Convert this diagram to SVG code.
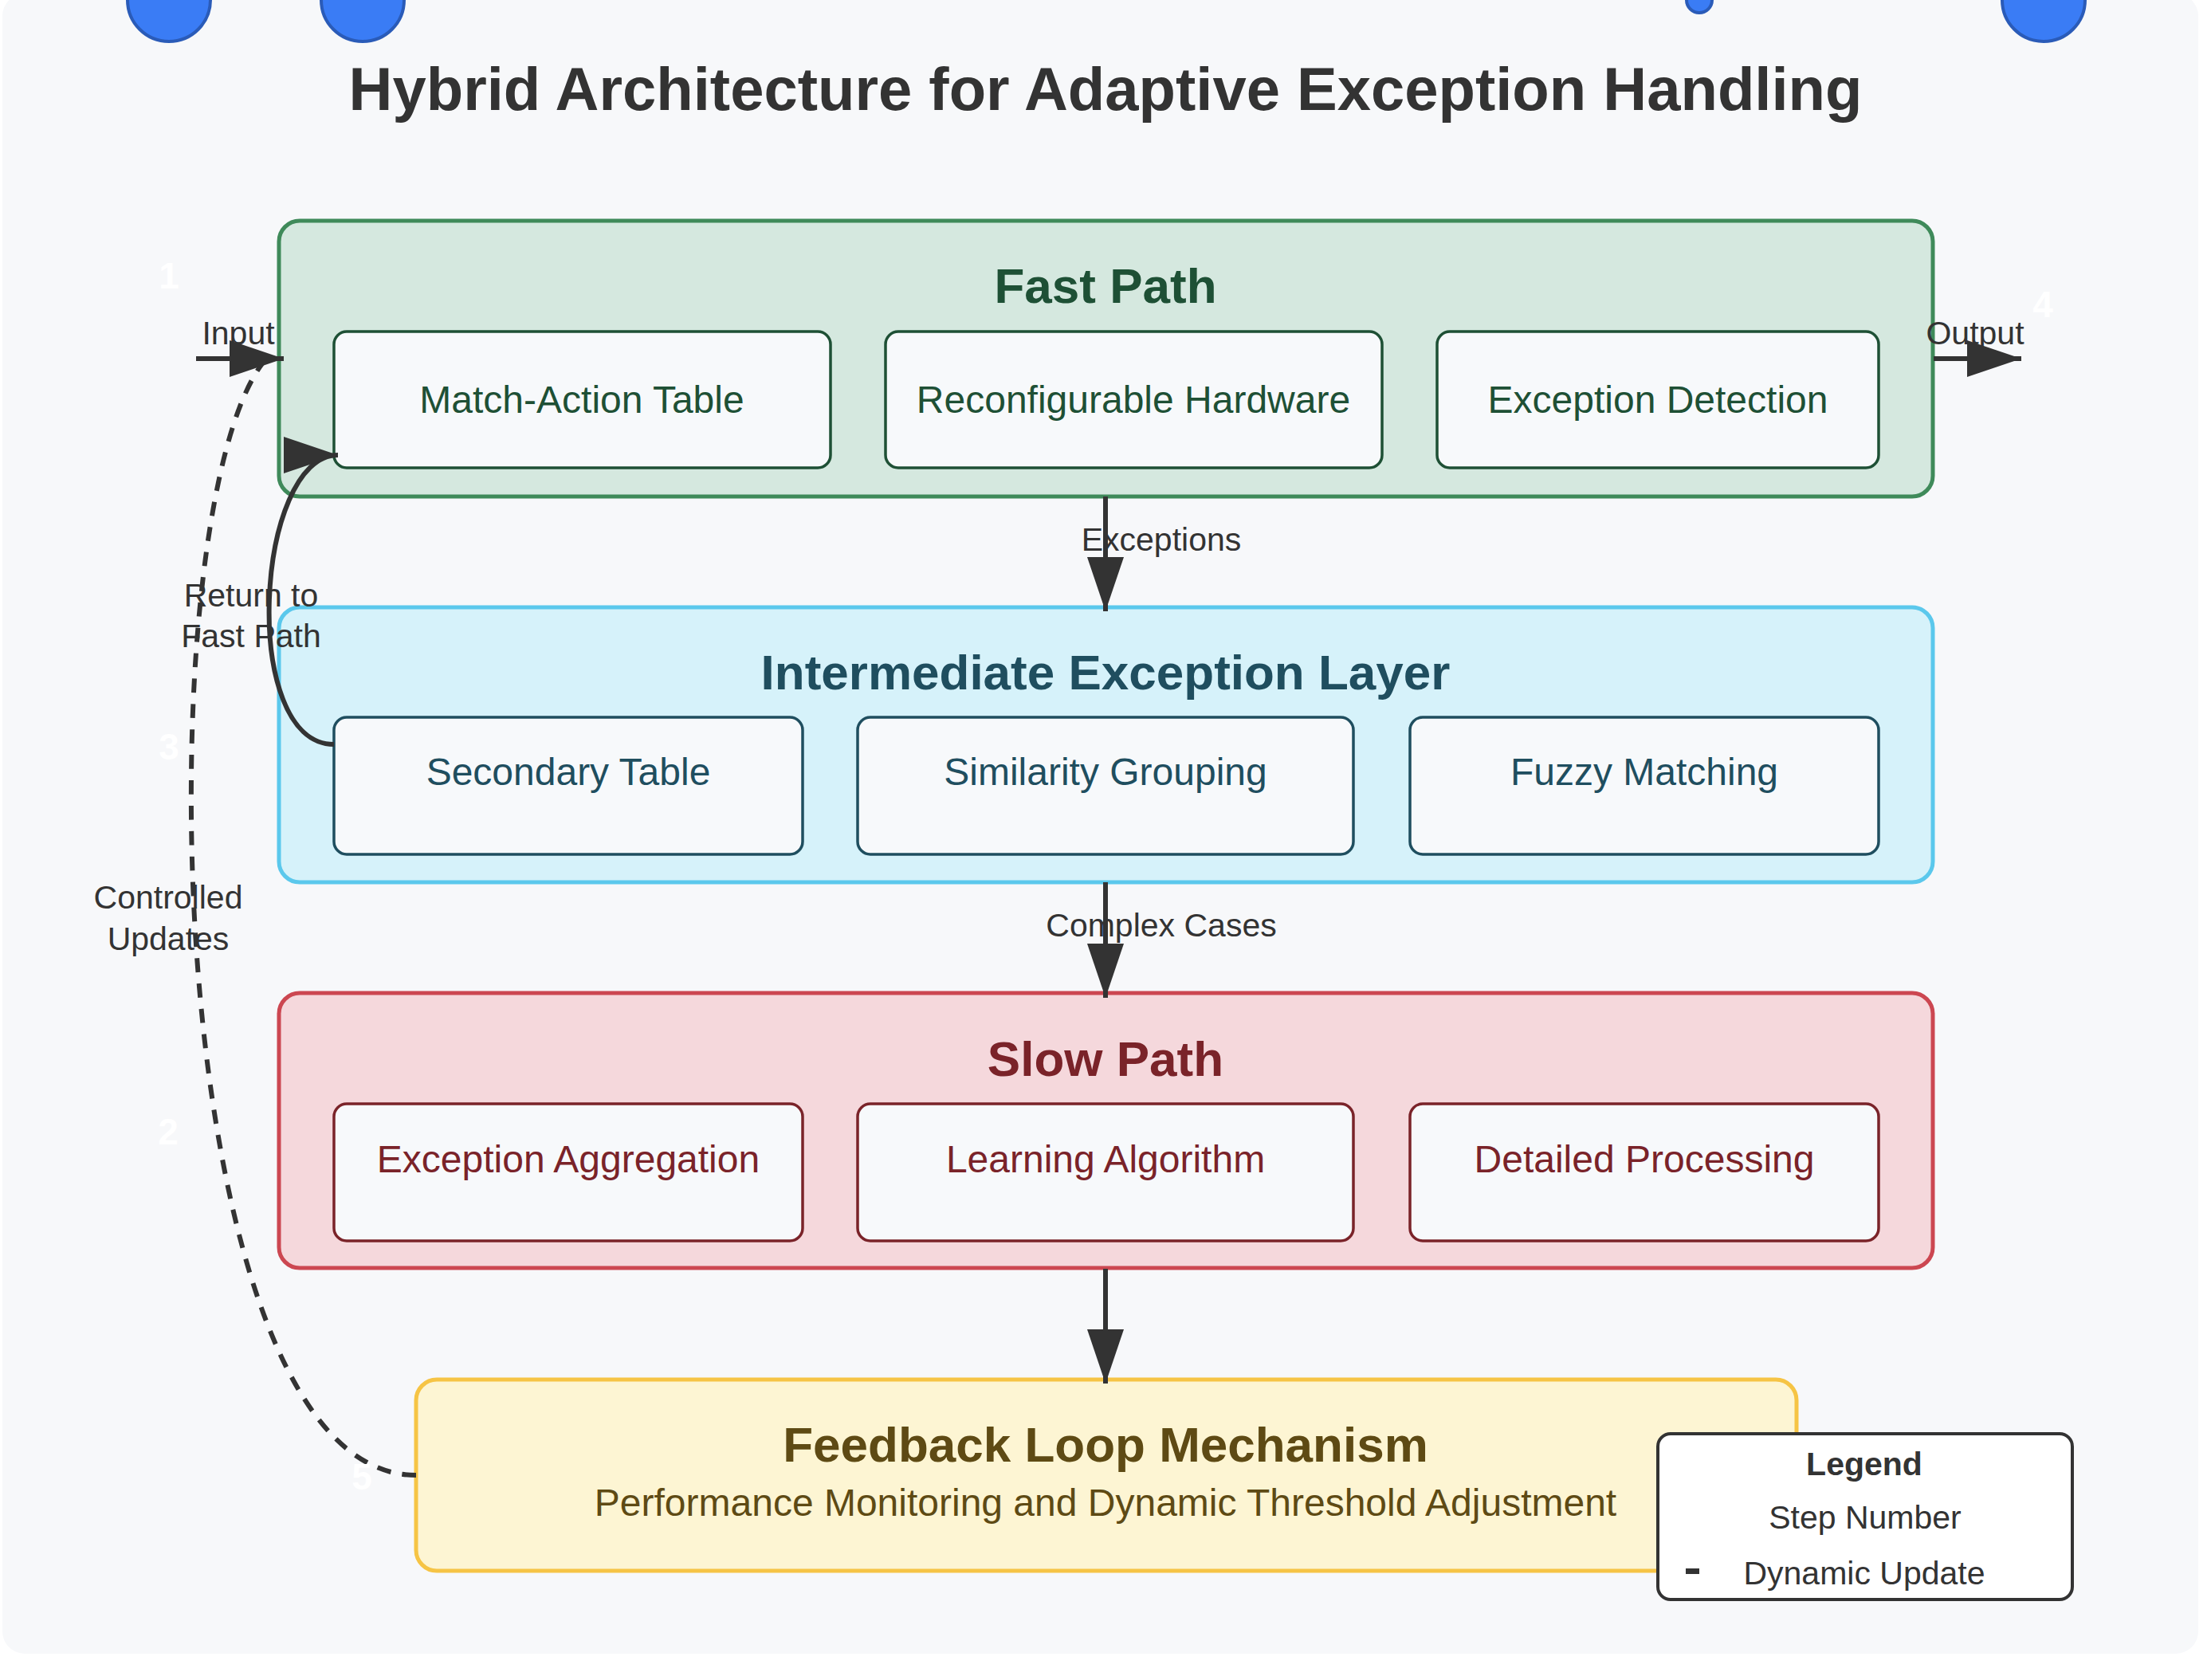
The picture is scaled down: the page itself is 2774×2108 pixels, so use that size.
<svg xmlns="http://www.w3.org/2000/svg" width="2774" height="2108" viewBox="0 0 2774 2108">
<style>
text{font-family:"Liberation Sans",Arial,Helvetica,sans-serif}
.title{font-size:76px;font-weight:bold;fill:#333;text-anchor:middle}
.sec{font-size:62px;font-weight:bold;text-anchor:middle}
.item{font-size:48px;text-anchor:middle}
.lbl{font-size:41px;fill:#333;text-anchor:middle}
.step{font-size:46px;font-weight:bold;fill:#fff;text-anchor:middle}
.conn{stroke:#333;stroke-width:6;fill:none}
.dash{stroke-dasharray:17.7,14.2}
.dot{fill:#3a7cf5;stroke:#2a5bb8;stroke-width:4}
.fastI{fill:#f7f9fb;stroke:#1e5035;stroke-width:3.5}
.midI{fill:#f7f9fb;stroke:#1f4e5f;stroke-width:3.5}
.slowI{fill:#f7f9fb;stroke:#7a2329;stroke-width:3.5}
</style>
<defs>
<marker id="arr" markerUnits="userSpaceOnUse" markerWidth="68" markerHeight="46" refX="68" refY="23" orient="auto" viewBox="0 0 68 46">
<path d="M0,0 L68,23 L0,46 Z" fill="#333"/>
</marker>
</defs>
<rect x="0" y="0" width="2774" height="2108" fill="#ffffff"/>
<rect x="3" y="-8" width="2755" height="2083" rx="28" fill="#f7f8fa"/>

<g id="step-dots">
<circle class="dot" cx="212" cy="0" r="52"/>
<circle class="dot" cx="455" cy="0" r="52"/>
<circle class="dot" cx="2132" cy="0" r="16"/>
<circle class="dot" cx="2564" cy="0" r="52"/>
</g>

<text class="title" x="1387" y="138">Hybrid Architecture for Adaptive Exception Handling</text>

<g id="fast-path">
<rect x="350" y="277" width="2075" height="346" rx="26" fill="#d5e8df" stroke="#3f8a5a" stroke-width="5"/>
<text class="sec" x="1387" y="380" fill="#1e5035">Fast Path</text>
<g id="match-action-table"><rect class="fastI" x="419" y="416" width="623" height="171" rx="16"/><text class="item" x="730" y="518" fill="#1e5035">Match-Action Table</text></g>
<g id="reconfigurable-hardware"><rect class="fastI" x="1111" y="416" width="623" height="171" rx="16"/><text class="item" x="1422" y="518" fill="#1e5035">Reconfigurable Hardware</text></g>
<g id="exception-detection"><rect class="fastI" x="1803" y="416" width="554" height="171" rx="16"/><text class="item" x="2080" y="518" fill="#1e5035">Exception Detection</text></g>
</g>

<g id="intermediate-layer">
<rect x="350" y="762" width="2075" height="345" rx="26" fill="#d6f2fa" stroke="#5bc8ec" stroke-width="5"/>
<text class="sec" x="1387" y="865" fill="#1f4e5f">Intermediate Exception Layer</text>
<g id="secondary-table"><rect class="midI" x="419" y="900" width="588" height="172" rx="16"/><text class="item" x="713" y="985" fill="#1f4e5f">Secondary Table</text></g>
<g id="similarity-grouping"><rect class="midI" x="1076" y="900" width="622" height="172" rx="16"/><text class="item" x="1387" y="985" fill="#1f4e5f">Similarity Grouping</text></g>
<g id="fuzzy-matching"><rect class="midI" x="1769" y="900" width="588" height="172" rx="16"/><text class="item" x="2063" y="985" fill="#1f4e5f">Fuzzy Matching</text></g>
</g>

<g id="slow-path">
<rect x="350" y="1246" width="2075" height="345" rx="26" fill="#f5d8dc" stroke="#cc4751" stroke-width="5"/>
<text class="sec" x="1387" y="1350" fill="#7a2329">Slow Path</text>
<g id="exception-aggregation"><rect class="slowI" x="419" y="1385" width="588" height="172" rx="16"/><text class="item" x="713" y="1471" fill="#7a2329">Exception Aggregation</text></g>
<g id="learning-algorithm"><rect class="slowI" x="1076" y="1385" width="622" height="172" rx="16"/><text class="item" x="1387" y="1471" fill="#7a2329">Learning Algorithm</text></g>
<g id="detailed-processing"><rect class="slowI" x="1769" y="1385" width="588" height="172" rx="16"/><text class="item" x="2063" y="1471" fill="#7a2329">Detailed Processing</text></g>
</g>

<g id="feedback-loop">
<rect x="522" y="1731" width="1732" height="240" rx="26" fill="#fdf5d3" stroke="#f6c445" stroke-width="5"/>
<text class="sec" x="1387" y="1834" fill="#5e4a14">Feedback Loop Mechanism</text>
<text class="item" x="1387" y="1902" fill="#5e4a14">Performance Monitoring and Dynamic Threshold Adjustment</text>
</g>

<g id="connectors">
<path class="conn dash" d="M522,1851 C200,1851 180,650 330,455"/>
<line class="conn" x1="246" y1="450" x2="356" y2="450" marker-end="url(#arr)"/>
<line class="conn" x1="2426" y1="450" x2="2536" y2="450" marker-end="url(#arr)"/>
<line class="conn" x1="1387" y1="623" x2="1387" y2="767" marker-end="url(#arr)"/>
<line class="conn" x1="1387" y1="1107" x2="1387" y2="1252" marker-end="url(#arr)"/>
<line class="conn" x1="1387" y1="1592" x2="1387" y2="1736" marker-end="url(#arr)"/>
<path class="conn" d="M419,934 C300,934 320,571 424,571" marker-end="url(#arr)"/>
<text class="lbl" x="299" y="432">Input</text>
<text class="lbl" x="2478" y="432">Output</text>
<text class="lbl" x="1457" y="691">Exceptions</text>
<text class="lbl" x="1457" y="1175">Complex Cases</text>
<text class="lbl" x="315" y="761">Return to</text>
<text class="lbl" x="315" y="812">Fast Path</text>
<text class="lbl" x="211" y="1140">Controlled</text>
<text class="lbl" x="211" y="1192">Updates</text>
</g>

<g id="step-numbers">
<text class="step" x="212" y="362">1</text>
<text class="step" x="211" y="1436">2</text>
<text class="step" x="212" y="953">3</text>
<text class="step" x="2563" y="398">4</text>
<text class="step" x="454" y="1869">5</text>
</g>

<g id="legend">
<rect x="2080" y="1799" width="520" height="208" rx="16" fill="#ffffff" stroke="#333" stroke-width="4"/>
<text class="lbl" x="2339" y="1851" font-weight="bold">Legend</text>
<text class="lbl" x="2340" y="1918">Step Number</text>
<line x1="2115" y1="1971.5" x2="2132" y2="1971.5" stroke="#333" stroke-width="7"/>
<text class="lbl" x="2339" y="1988">Dynamic Update</text>
</g>
</svg>
